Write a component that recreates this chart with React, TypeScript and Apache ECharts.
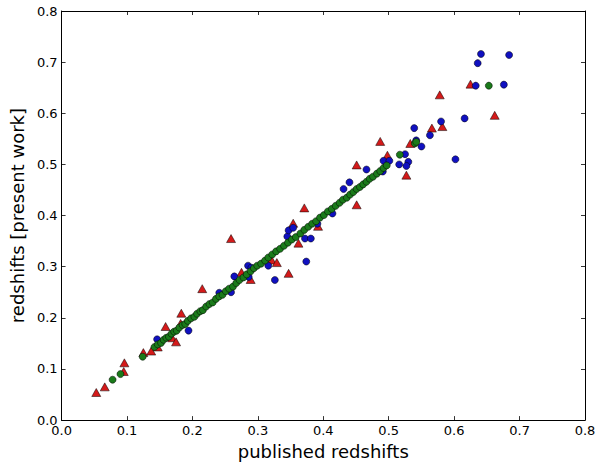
import React, { useEffect, useRef } from "react";
import * as echarts from "echarts";

const xTicks = [0, 0.1, 0.2, 0.3, 0.4, 0.5, 0.6, 0.7, 0.8];

const redX = [0.053, 0.066, 0.096, 0.095, 0.125, 0.137, 0.147, 0.159, 0.169, 0.175, 0.183, 0.182, 0.215, 0.259, 0.275, 0.289, 0.321, 0.329, 0.347, 0.354, 0.362, 0.371, 0.392, 0.451, 0.451, 0.487, 0.498, 0.527, 0.533, 0.566, 0.578, 0.582, 0.625, 0.662];
const redY = [0.054, 0.065, 0.112, 0.095, 0.132, 0.135, 0.143, 0.183, 0.161, 0.153, 0.209, 0.189, 0.257, 0.355, 0.289, 0.275, 0.313, 0.308, 0.287, 0.385, 0.346, 0.415, 0.379, 0.421, 0.499, 0.545, 0.518, 0.479, 0.541, 0.571, 0.636, 0.574, 0.657, 0.596];

const blueX = [0.146, 0.194, 0.241, 0.259, 0.264, 0.285, 0.290, 0.286, 0.316, 0.326, 0.345, 0.347, 0.354, 0.372, 0.381, 0.374, 0.391, 0.414, 0.431, 0.440, 0.466, 0.491, 0.492, 0.501, 0.516, 0.525, 0.530, 0.527, 0.539, 0.542, 0.550, 0.563, 0.580, 0.602, 0.616, 0.633, 0.636, 0.641, 0.676, 0.684];
const blueY = [0.158, 0.175, 0.249, 0.250, 0.281, 0.302, 0.298, 0.280, 0.302, 0.274, 0.359, 0.371, 0.376, 0.355, 0.355, 0.310, 0.384, 0.404, 0.452, 0.465, 0.490, 0.486, 0.507, 0.507, 0.500, 0.520, 0.505, 0.497, 0.571, 0.547, 0.535, 0.557, 0.584, 0.510, 0.590, 0.654, 0.698, 0.716, 0.656, 0.714];

const greenX = [0.078, 0.090, 0.124, 0.142, 0.147, 0.152, 0.156, 0.160, 0.164, 0.168, 0.172, 0.176, 0.180, 0.185, 0.189, 0.193, 0.198, 0.203, 0.207, 0.212, 0.216, 0.221, 0.226, 0.231, 0.236, 0.241, 0.246, 0.251, 0.256, 0.262, 0.267, 0.272, 0.278, 0.283, 0.289, 0.294, 0.299, 0.305, 0.311, 0.316, 0.322, 0.328, 0.334, 0.340, 0.346, 0.352, 0.358, 0.365, 0.371, 0.377, 0.383, 0.389, 0.395, 0.401, 0.407, 0.413, 0.419, 0.425, 0.430, 0.436, 0.441, 0.446, 0.451, 0.456, 0.461, 0.466, 0.471, 0.476, 0.482, 0.487, 0.492, 0.497, 0.517, 0.540, 0.542, 0.653];
const greenY = [0.079, 0.090, 0.124, 0.143, 0.148, 0.151, 0.157, 0.161, 0.163, 0.169, 0.173, 0.175, 0.181, 0.186, 0.188, 0.194, 0.199, 0.202, 0.208, 0.213, 0.215, 0.222, 0.227, 0.230, 0.237, 0.242, 0.245, 0.252, 0.257, 0.261, 0.268, 0.274, 0.279, 0.285, 0.291, 0.297, 0.302, 0.306, 0.312, 0.318, 0.324, 0.330, 0.335, 0.341, 0.347, 0.353, 0.358, 0.365, 0.372, 0.378, 0.384, 0.389, 0.396, 0.401, 0.408, 0.413, 0.419, 0.425, 0.431, 0.435, 0.441, 0.446, 0.452, 0.456, 0.461, 0.466, 0.472, 0.476, 0.482, 0.487, 0.493, 0.498, 0.519, 0.541, 0.544, 0.654];

const zip = (a: number[], b: number[]) => a.map((v, i) => [v, b[i]]);

export default function App() {
  const ref = useRef<HTMLDivElement>(null);
  useEffect(() => {
    document.body.style.margin = "0";
    if (!ref.current) return;
    const chart = echarts.init(ref.current, undefined, { renderer: "svg" });
    const font = "DejaVu Sans";
    const baseAxis = {
      type: "value" as const,
      min: xTicks[0],
      max: xTicks[xTicks.length - 1],
      interval: 0.1,
      splitLine: { show: false },
      axisLine: { show: true, onZero: false, lineStyle: { color: "#000", width: 1 } },
      axisTick: { show: true, inside: true, length: 4, lineStyle: { color: "#000", width: 0.8 } },
    };
    chart.setOption({
      animation: false,
      backgroundColor: "#fff",
      grid: { left: 52, right: 15, top: 11, bottom: 41, containLabel: false },
      xAxis: [
        {
          ...baseAxis,
          position: "bottom",
          axisLabel: { color: "#000", fontSize: 13, fontFamily: font, margin: 4, formatter: (v: number) => v.toFixed(1) },
          name: "published redshifts",
          nameLocation: "middle",
          nameGap: 20,
          nameTextStyle: { color: "#000", fontSize: 18, fontFamily: font },
        },
        { ...baseAxis, position: "top", axisLabel: { show: false } },
      ],
      yAxis: [
        {
          ...baseAxis,
          position: "left",
          axisLabel: { color: "#000", fontSize: 13, fontFamily: font, margin: 4, formatter: (v: number) => v.toFixed(1) },
          name: "redshifts [present work]",
          nameLocation: "middle",
          nameGap: 28,
          nameTextStyle: { color: "#000", fontSize: 18, fontFamily: font },
        },
        { ...baseAxis, position: "right", axisLabel: { show: false } },
      ],
      series: [
        {
          type: "scatter",
          xAxisIndex: 0,
          yAxisIndex: 0,
          data: zip(redX, redY),
          symbol: "triangle",
          symbolSize: [9, 8],
          itemStyle: { color: "#d41a1a", borderColor: "#000", borderWidth: 0.5, opacity: 1 },
        },
        {
          type: "scatter",
          xAxisIndex: 0,
          yAxisIndex: 0,
          data: zip(blueX, blueY),
          symbol: "circle",
          symbolSize: 7,
          itemStyle: { color: "#1010c0", borderColor: "#000", borderWidth: 0.5, opacity: 1 },
        },
        {
          type: "scatter",
          xAxisIndex: 0,
          yAxisIndex: 0,
          data: zip(greenX, greenY),
          symbol: "circle",
          symbolSize: 7,
          itemStyle: { color: "#1a7a1a", borderColor: "#000", borderWidth: 0.5, opacity: 1 },
        },
      ],
    });
    return () => chart.dispose();
  }, []);
  return <div ref={ref} style={{ position: "fixed", left: 0, top: 0, width: 600, height: 465 }} />;
}
